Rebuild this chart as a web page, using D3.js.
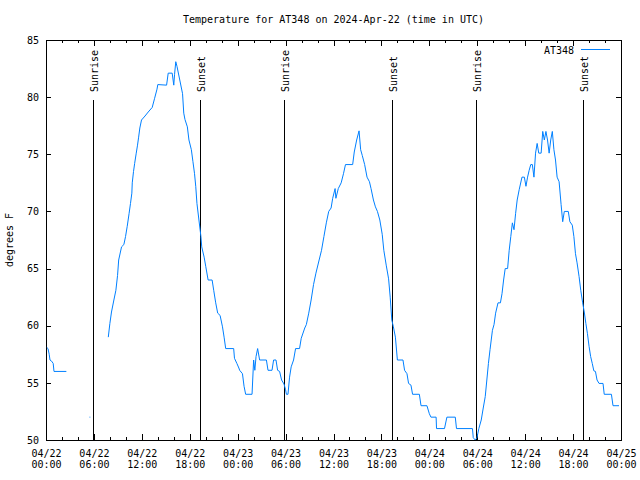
<!DOCTYPE html>
<html><head><meta charset="utf-8">
<script src="https://cdn.jsdelivr.net/npm/d3@7"></script>
<style>body{margin:0;background:#fff}svg{display:block}</style>
</head><body>
<svg id="c" width="640" height="480"></svg>
<script>
const title = "Temperature for AT348 on 2024-Apr-22 (time in UTC)";
const seriesName = "AT348";
const yLabel = "degrees F";
const startTime = "2024-04-22T00:00:00Z";
const endTime = "2024-04-25T00:00:00Z";
const yTicks = [50, 55, 60, 65, 70, 75, 80, 85];
// hours since start, temperature (null = gap)
const hours = [0.1,0.25,0.4,0.5,0.7,0.9,1.0,2.55,3.0,
  5.45,5.55,6.0,
  7.8,8.0,8.2,8.5,8.75,8.96,9.1,9.46,9.75,9.96,10.17,10.4,10.58,10.75,10.8,10.96,11.1,11.3,11.46,11.6,11.75,11.96,
  12.4,12.8,13.3,13.6,13.9,14.0,15.1,15.3,15.8,16.0,16.1,16.25,16.4,16.75,17.1,17.25,17.4,17.7,17.9,18.2,18.4,18.6,18.75,18.9,
  19.15,19.4,19.5,19.8,20.0,20.3,20.8,21.0,21.25,21.5,21.8,22.1,22.3,22.5,23.5,23.6,23.9,24.15,24.25,24.6,24.8,25.0,25.8,
  26.0,26.15,26.3,26.5,26.75,27.6,27.8,28.3,28.5,28.8,29.0,29.25,29.5,29.8,30.0,30.1,30.3,30.5,30.7,31.0,31.25,31.75,31.96,
  32.4,32.6,32.9,33.2,33.5,33.8,34.2,34.5,34.8,35.1,35.4,35.7,35.9,36.2,36.3,36.6,36.96,37.25,37.5,38.4,38.6,38.9,39.2,39.4,
  39.6,39.9,40.2,40.5,40.7,41.0,41.25,41.5,41.8,42.1,42.3,42.6,42.9,43.1,43.3,43.5,43.75,44.0,44.7,44.9,45.2,45.4,45.7,45.9,
  46.75,46.96,47.7,48.0,48.2,48.85,48.9,49.9,50.2,51.25,51.4,53.4,53.5,53.75,53.96,54.2,54.5,54.75,55.0,55.2,55.4,55.6,55.9,
  56.1,56.3,56.6,56.9,57.1,57.3,57.5,57.8,58.0,58.2,58.4,58.6,58.8,59.0,59.25,59.6,59.9,60.1,60.3,60.5,60.7,60.9,61.1,61.3,
  61.5,61.7,62.0,62.2,62.4,62.6,62.8,63.0,63.2,63.4,63.6,63.8,64.0,64.25,64.5,64.7,64.9,65.4,65.6,65.9,66.1,66.3,66.5,66.75,
  66.96,67.2,67.4,67.6,67.8,68.0,68.2,68.4,68.6,68.8,69.0,69.25,69.75,69.9,70.8,71.0,71.75];
const temps = [58.1,58.0,57.5,57.0,56.9,56.7,56.0,56.0,null,
  52.0,52.0,null,
  59.0,60.2,61.2,62.25,63.1,64.4,65.75,66.9,67.1,67.8,68.7,69.8,70.7,71.6,72.5,73.5,74.2,75.1,75.8,76.5,77.3,78.0,
  78.35,78.7,79.1,79.9,80.7,81.1,81.05,82.1,82.1,81.05,82.0,83.1,82.7,81.5,80.3,78.6,78.05,77.4,76.25,75.4,74.35,73.3,72.2,70.7,
  69.25,67.8,66.9,66.0,65.2,64.0,64.0,63.1,62.0,61.1,60.9,59.9,59.0,58.0,58.0,57.15,56.7,56.3,56.1,55.8,54.7,54.0,54.0,
  57.0,56.1,57.3,58.0,57.0,57.0,56.1,56.1,57.0,57.0,56.1,56.0,55.25,54.9,54.4,54.0,54.0,55.5,56.4,57.0,58.0,58.0,58.9,
  59.8,60.1,61.1,62.25,63.6,64.6,65.75,66.6,67.8,69.0,70.0,70.3,71.15,72.0,71.15,72.0,72.5,73.3,74.1,74.1,75.2,76.25,77.05,75.4,
  74.9,74.1,73.0,72.6,72.0,71.0,70.4,70.0,69.25,68.0,66.6,65.3,64.1,62.5,60.5,59.9,59.0,57.0,57.0,56.1,55.8,54.95,54.8,54.0,
  54.0,53.0,53.0,52.3,52.0,52.0,51.0,51.0,52.0,52.0,51.0,51.0,50.2,50.0,50.2,51.0,51.75,52.8,53.8,55.25,56.7,57.9,59.6,
  60.1,61.1,62.0,62.0,62.8,64.0,65.0,65.0,66.6,67.8,69.0,68.4,69.8,71.0,71.9,73.0,73.0,72.2,73.0,73.6,74.1,74.1,73.0,75.1,
  75.95,75.1,75.1,77.0,76.25,77.0,76.25,75.1,76.25,77.0,75.4,74.5,73.0,72.6,70.6,69.1,70.0,70.0,69.1,68.8,67.8,66.3,65.5,64.3,
  63.1,62.0,61.2,60.2,59.3,58.2,57.3,56.7,56.05,56.0,55.25,54.95,54.95,54.0,54.0,53.0,53.0];
const sunLabels = ["Sunrise", "Sunset", "Sunrise", "Sunset", "Sunrise", "Sunset"];
const sunTimes = ["2024-04-22T05:53:00Z", "2024-04-22T19:16:00Z", "2024-04-23T05:51:00Z",
                  "2024-04-23T19:17:00Z", "2024-04-24T05:50:00Z", "2024-04-24T19:18:00Z"];

const FONT = "'DejaVu Sans Mono', 'Liberation Mono', monospace";
const svg = d3.select("#c");
const L = 46, R = 621, T = 40, B = 440;
const t0 = new Date(startTime), t1 = new Date(endTime);
const x = d3.scaleUtc().domain([t0, t1]).range([L, R]);
const y = d3.scaleLinear().domain([50, 85]).range([B, T]);
const data = hours.map((h, i) => ({ t: new Date(t0.getTime() + h * 3600000), v: temps[i] }));

const g = svg.append("g").attr("font-family", FONT).attr("font-size", 10);

// title
g.append("text").attr("x", (L + R) / 2).attr("y", 23).attr("text-anchor", "middle").text(title);

function styleAxis(sel) {
  sel.select(".domain").remove();
  sel.selectAll("line").attr("stroke", "#000").attr("shape-rendering", "crispEdges");
  sel.attr("font-family", FONT).attr("font-size", 10);
}
// minor x ticks
g.append("g").attr("transform", `translate(0,${B})`)
  .call(d3.axisBottom(x).ticks(d3.utcHour.every(2)).tickSize(-3).tickSizeOuter(0).tickFormat(""))
  .call(styleAxis);
g.append("g").attr("transform", `translate(0,${T})`)
  .call(d3.axisTop(x).ticks(d3.utcHour.every(2)).tickSize(-3).tickSizeOuter(0).tickFormat(""))
  .call(styleAxis);
// major x ticks
const fmtD = d3.utcFormat("%m/%d"), fmtT = d3.utcFormat("%H:%M");
const xb = g.append("g").attr("transform", `translate(0,${B})`)
  .call(d3.axisBottom(x).ticks(d3.utcHour.every(6)).tickSize(-6).tickSizeOuter(0).tickFormat(""))
  .call(styleAxis);
xb.selectAll(".tick").each(function(d) {
  const tx = d3.select(this).append("text").attr("fill", "#000").attr("text-anchor", "middle");
  tx.append("tspan").attr("x", 0).attr("y", 17).text(fmtD(d));
  tx.append("tspan").attr("x", 0).attr("y", 28).text(fmtT(d));
});
g.append("g").attr("transform", `translate(0,${T})`)
  .call(d3.axisTop(x).ticks(d3.utcHour.every(6)).tickSize(-6).tickSizeOuter(0).tickFormat(""))
  .call(styleAxis);
// y ticks
const yl = g.append("g").attr("transform", `translate(${L},0)`)
  .call(d3.axisLeft(y).tickValues(yTicks).tickSize(-5).tickSizeOuter(0).tickPadding(7).tickFormat(d3.format("d")))
  .call(styleAxis);
yl.selectAll("text").attr("fill", "#000");
g.append("g").attr("transform", `translate(${R},0)`)
  .call(d3.axisRight(y).tickValues(yTicks).tickSize(-5).tickSizeOuter(0).tickFormat(""))
  .call(styleAxis);

// frame
g.append("rect").attr("x", L + 0.5).attr("y", T + 0.5).attr("width", R - L).attr("height", B - T)
  .attr("fill", "none").attr("stroke", "#000").attr("shape-rendering", "crispEdges");

// y label
g.append("text").attr("transform", `translate(13,${(T + B) / 2}) rotate(-90)`)
  .attr("text-anchor", "middle").text(yLabel);

// sunrise / sunset
const sun = sunTimes.map((s, i) => ({ t: new Date(s), label: sunLabels[i] }));
g.selectAll(".sunline").data(sun).join("line").attr("class", "sunline")
  .attr("x1", d => Math.round(x(d.t)) + 0.5).attr("x2", d => Math.round(x(d.t)) + 0.5)
  .attr("y1", T + (B - T) * 0.15).attr("y2", B)
  .attr("stroke", "#000").attr("shape-rendering", "crispEdges");
g.selectAll(".sunlab").data(sun).join("text").attr("class", "sunlab")
  .attr("transform", d => `translate(${Math.round(x(d.t)) + 5},${T + (B - T) * 0.13}) rotate(-90)`)
  .attr("text-anchor", "start").text(d => d.label);

// data line
const line = d3.line().defined(d => d.v != null).x(d => x(d.t)).y(d => y(d.v));
g.append("path").datum(data).attr("d", line)
  .attr("fill", "none").attr("stroke", "#0080ff").attr("stroke-width", 1);

// legend
g.append("text").attr("x", 574).attr("y", 54).attr("text-anchor", "end").text(seriesName);
g.append("line").attr("x1", 581).attr("x2", 610).attr("y1", 49.5).attr("y2", 49.5)
  .attr("stroke", "#0080ff").attr("shape-rendering", "crispEdges");
</script>
</body></html>
